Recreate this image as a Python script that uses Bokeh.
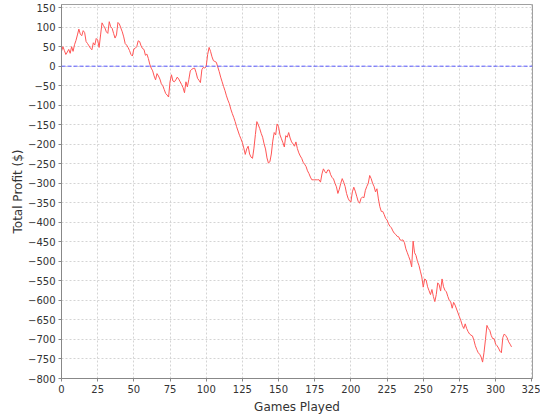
from bokeh.plotting import figure
from bokeh.models import Range1d, Span, SingleIntervalTicker, ColumnDataSource
from bokeh.embed import file_html
from bokeh.resources import INLINE

# ---- data ----
profit = [
    38, 50, 40, 30, 36, 43, 33, 50, 38, 55,
    66, 80, 95, 82, 78, 91, 86, 63, 58, 52,
    46, 42, 60, 54, 71, 67, 48, 80, 111, 104,
    98, 88, 84, 114, 101, 97, 84, 72, 80, 112,
    108, 98, 88, 75, 58, 54, 48, 40, 30, 26,
    44, 46, 50, 65, 63, 52, 45, 43, 28, 31,
    20, 5, -5, -12, -25, -35, -19, -25, -33, -45,
    -50, -60, -70, -74, -79, -40, -22, -38, -40, -35,
    -28, -33, -40, -47, -55, -68, -40, -53, -34, -12,
    -8, -6, -5, -16, -31, -36, -42, -9, -3, -5,
    -1, 30, 48, 38, 24, 14, 12, 10, -2, -14,
    -28, -40, -52, -63, -76, -87, -96, -110, -121, -131,
    -142, -155, -166, -177, -186, -196, -210, -226, -212, -205,
    -225, -233, -236, -210, -175, -142, -150, -160, -172, -182,
    -199, -212, -235, -248, -245, -225, -192, -170, -176, -148,
    -155, -176, -186, -196, -207, -178, -182, -170, -184, -194,
    -199, -205, -194, -211, -222, -230, -236, -246, -251, -257,
    -268, -275, -284, -291, -291, -291, -291, -291, -291, -297,
    -276, -263, -270, -274, -266, -266, -278, -285, -289, -300,
    -309, -326, -315, -300, -288, -297, -308, -326, -338, -345,
    -348, -322, -310, -320, -333, -346, -351, -339, -335, -337,
    -318, -308, -300, -280, -288, -300, -308, -322, -314, -340,
    -360, -372, -372, -380, -390, -394, -404, -410, -414, -422,
    -428, -431, -436, -437, -445, -446, -445, -452, -468, -478,
    -488, -498, -514, -448, -478, -485, -500, -510, -525, -540,
    -566, -545, -548, -565, -575, -585, -572, -590, -603, -585,
    -555, -560, -576, -545, -565, -574, -578, -590, -600, -604,
    -620, -605, -612, -622, -632, -642, -652, -664, -672, -660,
    -672, -680, -686, -689, -691, -702, -716, -726, -734, -738,
    -745, -758, -733, -700, -664, -672, -677, -690, -698, -698,
    -712, -716, -722, -730, -734, -695, -686, -690, -696, -706,
    -712, -719,
]
games = list(range(len(profit)))
zero_level = 0
x_tick_step = 25
y_tick_step = 50
x_label = "Games Played"
y_label = "Total Profit ($)"

FONT = "DejaVu Sans"

src = ColumnDataSource(data=dict(games=games, profit=profit))

p = figure(width=540, height=416, output_backend="svg", toolbar_location=None,
           x_range=Range1d(0, 325.5), y_range=Range1d(-800, 158),
           min_border_left=61, min_border_right=8, min_border_top=4,
           min_border_bottom=30)

p.background_fill_color = "white"
p.border_fill_color = "white"
p.outline_line_color = "#a0a0a0"

for g in (p.xgrid, p.ygrid):
    g.grid_line_color = "#d4d4d4"
    g.grid_line_dash = "2 2"
    g.grid_line_width = 1

p.xaxis.ticker = SingleIntervalTicker(interval=x_tick_step, num_minor_ticks=0)
p.yaxis.ticker = SingleIntervalTicker(interval=y_tick_step, num_minor_ticks=0)
p.xaxis.axis_label = x_label
p.yaxis.axis_label = y_label

for ax in (p.xaxis, p.yaxis):
    ax.axis_line_color = "#888888"
    ax.major_tick_line_color = "#888888"
    ax.major_tick_out = 3
    ax.major_tick_in = 0
    ax.minor_tick_line_color = None
    ax.major_label_text_font = FONT
    ax.major_label_text_font_size = "10px"
    ax.major_label_text_color = "#333333"
    ax.major_label_standoff = 3
    ax.axis_label_text_font = FONT
    ax.axis_label_text_font_size = "12px"
    ax.axis_label_text_font_style = "normal"
    ax.axis_label_text_color = "#333333"
    ax.axis_label_standoff = 4
p.yaxis.axis_label_standoff = 0

p.add_layout(Span(location=zero_level, dimension="width", line_color="#5a5aff",
                  line_dash="4 2", line_width=1))

p.line("games", "profit", source=src, line_color="#ff5555", line_width=1)

open("out.html", "w").write(file_html(p, INLINE))
